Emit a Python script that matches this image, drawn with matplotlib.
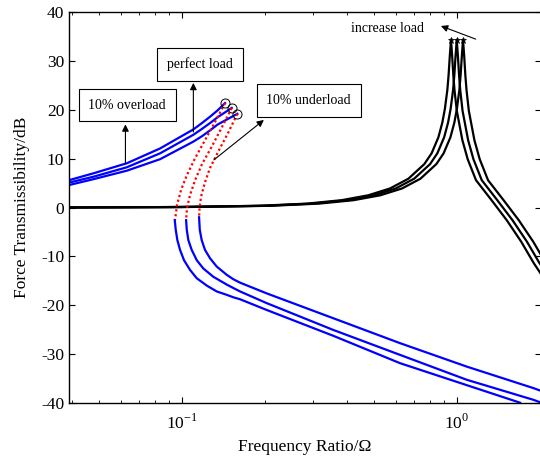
import numpy as np
import matplotlib
matplotlib.use("Agg")
import matplotlib.pyplot as plt
from matplotlib.ticker import LogLocator, FixedLocator, NullFormatter

plt.rcParams['font.family'] = ['Liberation Serif', 'DejaVu Serif']
plt.rcParams['mathtext.fontset'] = 'custom'
plt.rcParams['mathtext.rm'] = 'Liberation Serif'
plt.rcParams['axes.unicode_minus'] = False

# --- linear isolator (black): nominal, 10% overload, 10% underload ---
lin_db = [0, 0.1, 0.35, 0.8, 1.5, 2.5, 3.9, 5.9, 8.9, 11.1, 14.4, 17.4, 20.2, 24.1, 27.1,
          31.0, 34.3, 31.0, 27.0, 24.0, 19.8, 13.8, 9.9, 5.6, 1.6, -2.6, -7.0, -11.4,
          -13.2, -15.0]
lin_w_perfect = [0.039, 0.1, 0.2, 0.3, 0.4, 0.5, 0.6, 0.7, 0.8, 0.85, 0.9, 0.93, 0.95, 0.97,
                 0.98, 0.99, 1.0, 1.01, 1.02, 1.03, 1.05, 1.1, 1.15, 1.233, 1.4, 1.595, 1.8,
                 2.0, 2.1, 2.2]
lin_w_over = [0.039, 0.0953, 0.1906, 0.2859, 0.3812, 0.4765, 0.5718, 0.6671, 0.7624, 0.8101,
              0.8577, 0.8863, 0.9054, 0.9244, 0.9339, 0.9435, 0.953, 0.9625, 0.9721, 0.9816,
              1.0007, 1.0483, 1.0960, 1.1750, 1.3342, 1.5200, 1.7154, 1.906, 2.0013, 2.0966]
lin_w_under = [0.039, 0.1054, 0.2108, 0.3162, 0.4216, 0.527, 0.6324, 0.7378, 0.8432, 0.8959,
               0.9486, 0.9802, 1.0013, 1.0224, 1.0329, 1.0435, 1.054, 1.0645, 1.0751, 1.0856,
               1.1067, 1.1594, 1.2121, 1.2996, 1.4756, 1.6811, 1.8972, 2.108, 2.2134, 2.3188]

# --- QZS isolator (blue/red): upper stable branch ---
up_w = [0.0389, 0.0477, 0.0631, 0.0834, 0.1102, 0.1184, 0.1267, 0.1350]
up_over_db = [5.6, 7.0, 9.06, 12.1, 16.0, 17.3, 18.6, 19.9]
up_perfect_db = [5.1, 6.3, 8.24, 11.1, 14.9, 16.1, 17.3, 18.5]
up_under_db = [4.6, 5.8, 7.54, 9.9, 13.5, 14.6, 15.8, 17.0]

# jump-down points (end of the upper branch)
jump_w = [0.1437, 0.1520, 0.1593]
jump_db = [21.4, 20.4, 19.2]

# unstable branch (dotted)
mid_over_w = [0.1437, 0.1321, 0.1215, 0.1118, 0.1045, 0.0994, 0.0961, 0.0945]
mid_over_db = [21.4, 17.5, 13.8, 10.1, 6.7, 3.6, 0.5, -2.6]
mid_perfect_w = [0.1520, 0.1401, 0.1289, 0.1185, 0.1118, 0.1072, 0.1045, 0.1037]
mid_perfect_db = [20.4, 16.5, 12.6, 8.9, 5.6, 2.6, -0.1, -2.6]
mid_under_w = [0.1593, 0.1474, 0.1367, 0.1267, 0.1215, 0.1175, 0.1161, 0.1156]
mid_under_db = [19.2, 15.3, 11.8, 8.1, 5.2, 2.2, -0.1, -2.0]

# lower stable branch
lo_over_w = [0.0943, 0.0951, 0.0964, 0.0986, 0.1019, 0.1072, 0.1134, 0.1233, 0.134, 0.1458,
             0.154, 0.1629, 0.2037, 0.356, 0.622, 1.087, 1.699]
lo_over_db = [-2.6, -4.6, -6.7, -8.7, -10.8, -12.8, -14.5, -16.0, -17.2, -17.9, -18.4,
              -18.8, -21.0, -26.3, -31.9, -36.4, -40.0]
lo_perfect_w = [0.1037, 0.1043, 0.1057, 0.1087, 0.1134, 0.1198, 0.1303, 0.1458, 0.154,
                0.1629, 0.2037, 0.356, 0.622, 1.087, 1.898, 2.03]
lo_perfect_db = [-2.6, -4.6, -6.7, -8.7, -10.8, -12.5, -14.2, -15.8, -16.5, -17.2, -19.6,
                 -25.1, -30.2, -35.3, -39.4, -40.0]
lo_under_w = [0.1156, 0.1163, 0.1182, 0.1215, 0.1267, 0.1340, 0.1458, 0.154, 0.1629, 0.2037,
              0.356, 0.622, 1.087, 1.898, 2.03]
lo_under_db = [-2.0, -4.6, -6.7, -8.7, -10.4, -12.1, -13.8, -14.7, -15.4, -17.6, -22.7,
               -27.8, -32.6, -37.0, -37.6]

fig = plt.figure(figsize=(5.4, 4.57), dpi=100)
ax = fig.add_axes([69 / 540, (457 - 402.7) / 457, 472 / 540, 390.4 / 457])

for w in (lin_w_over, lin_w_perfect, lin_w_under):
    ax.plot(w, lin_db, color='k', lw=1.6)
    pk = int(np.argmax(lin_db))
    ax.plot(w[pk], lin_db[pk], marker='*', color='k', ms=5, mew=0.5)

for db, jw, jd in zip((up_over_db, up_perfect_db, up_under_db), jump_w, jump_db):
    ax.plot(up_w + [jw], db + [jd], color='b', lw=1.6)

for w, db in ((mid_over_w, mid_over_db), (mid_perfect_w, mid_perfect_db),
              (mid_under_w, mid_under_db)):
    ax.plot(w, db, color='r', lw=1.6, ls=(0, (1, 1.2)))

for w, db in ((lo_over_w, lo_over_db), (lo_perfect_w, lo_perfect_db),
              (lo_under_w, lo_under_db)):
    ax.plot(w, db, color='b', lw=1.6)

ax.plot(jump_w, jump_db, 'o', mfc='none', mec='k', ms=6.5, mew=0.7)

ax.set_xscale('log')
ax.set_xlim(0.0389, 2.025)
ax.set_ylim(-40, 40)
ax.set_yticks(range(-40, 41, 10))
ax.xaxis.set_major_locator(FixedLocator([0.1, 1.0]))
ax.set_xticklabels([r'$10^{-1}$', r'$10^{0}$'])
ax.xaxis.set_minor_locator(LogLocator(base=10, subs=np.arange(2, 10)))
ax.xaxis.set_minor_formatter(NullFormatter())
ax.tick_params(which='both', direction='in', top=True, right=True, labelsize=12.5)
ax.tick_params(which='major', length=4, width=0.8)
ax.tick_params(which='minor', length=2.5, width=0.6)
ax.tick_params(axis='x', pad=8)
for s in ax.spines.values():
    s.set_linewidth(1.0)

ax.set_xlabel('Frequency Ratio/\u03a9', fontsize=12.5)
ax.set_ylabel('Force Transmissibility/dB', fontsize=12.5, labelpad=8)

box = dict(boxstyle='square,pad=0.7', fc='white', ec='k', lw=0.8)
arw = dict(arrowstyle='-|>', color='k', lw=0.8, mutation_scale=10)

ax.annotate('', xy=(0.0624, 17.6), xytext=(0.0624, 8.4), arrowprops=arw)
ax.text(0.0633, 21.0, '10% overload', ha='center', va='center', fontsize=10, bbox=box)
ax.annotate('', xy=(0.1102, 26.1), xytext=(0.1102, 14.9), arrowprops=arw)
ax.text(0.1164, 29.3, 'perfect load', ha='center', va='center', fontsize=10, bbox=box)
ax.annotate('', xy=(0.2025, 18.3), xytext=(0.1285, 9.4), arrowprops=arw)
ax.text(0.2897, 21.9, '10% underload', ha='center', va='center', fontsize=10, bbox=box)
ax.annotate('', xy=(0.857, 37.4), xytext=(1.198, 34.3), arrowprops=arw)
ax.text(0.560, 36.6, 'increase load', ha='center', va='center', fontsize=10)

fig.savefig('out.png', dpi=100)
